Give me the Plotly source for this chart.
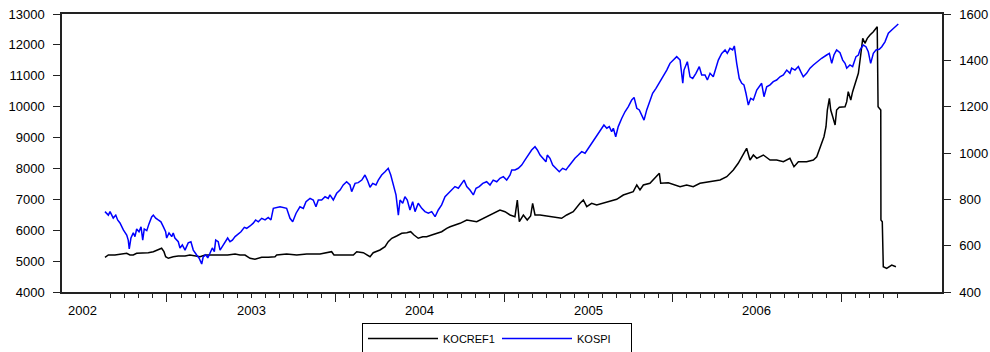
import plotly.graph_objects as go

# KOSPI index (right axis), time in decimal years
kospi_t = [
    2002.632, 2002.652, 2002.662, 2002.681, 2002.696, 2002.707, 2002.721, 2002.741, 2002.761, 2002.770,
    2002.776, 2002.786, 2002.800, 2002.810, 2002.820, 2002.834, 2002.846, 2002.856, 2002.865, 2002.880,
    2002.893, 2002.909, 2002.919, 2002.933, 2002.948, 2002.964, 2002.978, 2002.992, 2002.998, 2003.012,
    2003.028, 2003.037, 2003.047, 2003.067, 2003.077, 2003.091, 2003.107, 2003.126, 2003.142, 2003.156,
    2003.176, 2003.190, 2003.206, 2003.215, 2003.230, 2003.242, 2003.255, 2003.269, 2003.281, 2003.289,
    2003.304, 2003.315, 2003.328, 2003.344, 2003.360, 2003.374, 2003.388, 2003.404, 2003.420, 2003.439,
    2003.459, 2003.473, 2003.493, 2003.512, 2003.526, 2003.542, 2003.562, 2003.582, 2003.601, 2003.617,
    2003.631, 2003.671, 2003.710, 2003.730, 2003.746, 2003.766, 2003.789, 2003.809, 2003.825, 2003.849,
    2003.868, 2003.884, 2003.898, 2003.918, 2003.938, 2003.957, 2003.967, 2003.987, 2004.007, 2004.027,
    2004.046, 2004.066, 2004.086, 2004.096, 2004.116, 2004.135, 2004.156, 2004.175, 2004.189, 2004.205,
    2004.221, 2004.240, 2004.254, 2004.274, 2004.294, 2004.313, 2004.328, 2004.343, 2004.359, 2004.373,
    2004.383, 2004.399, 2004.412, 2004.426, 2004.442, 2004.458, 2004.472, 2004.491, 2004.512, 2004.531,
    2004.551, 2004.571, 2004.591, 2004.610, 2004.630, 2004.650, 2004.680, 2004.709, 2004.729, 2004.749,
    2004.763, 2004.779, 2004.798, 2004.818, 2004.834, 2004.853, 2004.874, 2004.897, 2004.917, 2004.936,
    2004.957, 2004.976, 2004.996, 2005.016, 2005.036, 2005.046, 2005.065, 2005.085, 2005.105, 2005.125,
    2005.144, 2005.164, 2005.184, 2005.198, 2005.214, 2005.233, 2005.249, 2005.257, 2005.273, 2005.289,
    2005.309, 2005.328, 2005.348, 2005.368, 2005.382, 2005.402, 2005.421, 2005.441, 2005.461, 2005.481,
    2005.500, 2005.520, 2005.540, 2005.560, 2005.580, 2005.593, 2005.610, 2005.625, 2005.639, 2005.649,
    2005.663, 2005.678, 2005.699, 2005.718, 2005.738, 2005.758, 2005.772, 2005.788, 2005.803, 2005.817,
    2005.831, 2005.847, 2005.862, 2005.882, 2005.902, 2005.926, 2005.945, 2005.966, 2005.985, 2006.009,
    2006.025, 2006.045, 2006.061, 2006.068, 2006.088, 2006.104, 2006.120, 2006.139, 2006.159, 2006.173,
    2006.193, 2006.207, 2006.223, 2006.242, 2006.258, 2006.272, 2006.292, 2006.312, 2006.325, 2006.341,
    2006.357, 2006.367, 2006.381, 2006.396, 2006.411, 2006.424, 2006.436, 2006.450, 2006.464, 2006.480,
    2006.500, 2006.515, 2006.529, 2006.543, 2006.559, 2006.579, 2006.598, 2006.618, 2006.638, 2006.658,
    2006.678, 2006.697, 2006.707, 2006.727, 2006.747, 2006.761, 2006.776, 2006.796, 2006.816, 2006.836,
    2006.859, 2006.885, 2006.915, 2006.931, 2006.945, 2006.958, 2006.974, 2006.994, 2007.010, 2007.024,
    2007.034, 2007.053, 2007.069, 2007.089, 2007.103, 2007.113, 2007.132, 2007.148, 2007.162, 2007.176,
    2007.192, 2007.208, 2007.227, 2007.242, 2007.261, 2007.281, 2007.301, 2007.321, 2007.340,
]
kospi = [
    747, 732, 747, 719, 732, 711, 698, 668, 646, 624,
    586, 633, 655, 639, 672, 660, 681, 624, 672, 665,
    694, 724, 732, 719, 711, 703, 682, 660, 633, 655,
    639, 655, 633, 617, 590, 603, 581, 612, 617, 581,
    560, 547, 521, 552, 560, 547, 567, 590, 574, 624,
    617, 581, 596, 617, 633, 617, 624, 639, 650, 660,
    679, 675, 685, 697, 711, 703, 718, 711, 722, 711,
    761, 768, 761, 718, 703, 740, 768, 761, 790, 804,
    797, 768, 797, 797, 811, 804, 819, 797, 826, 840,
    862, 876, 862, 833, 869, 872, 883, 905, 883, 852,
    869, 862, 883, 905, 919, 934, 905, 862, 819, 732,
    797, 783, 811, 797, 754, 790, 747, 783, 761, 747,
    740, 747, 725, 754, 776, 811, 833, 855, 848, 869,
    883, 855, 840, 819, 848, 855, 869, 876, 862, 883,
    876, 891, 898, 883, 905, 927, 927, 934, 948, 970,
    991, 1013, 1027, 1013, 991, 977, 962, 991, 977, 948,
    934, 919, 934, 927, 941, 962, 977, 991, 1006, 999,
    1020, 1042, 1063, 1085, 1107, 1121, 1107, 1114, 1092, 1107,
    1070, 1114, 1150, 1178, 1200, 1229, 1240, 1193, 1186, 1164,
    1142, 1186, 1221, 1258, 1279, 1308, 1332, 1358, 1387, 1404,
    1416, 1401, 1301, 1358, 1394, 1329, 1322, 1344, 1373, 1337,
    1337, 1315, 1344, 1329, 1373, 1401, 1430, 1445, 1430, 1452,
    1445, 1462, 1387, 1322, 1301, 1294, 1258, 1207, 1236, 1229,
    1272, 1286, 1301, 1243, 1286, 1294, 1308, 1315, 1329, 1337,
    1358, 1344, 1366, 1358, 1373, 1351, 1329, 1344, 1366, 1380,
    1394, 1409, 1423, 1430, 1387, 1423, 1445, 1433, 1401, 1387,
    1366, 1380, 1373, 1416, 1423, 1445, 1466, 1459, 1437, 1387,
    1430, 1445, 1448, 1459, 1480, 1517, 1531, 1545, 1557,
]

# KOCREF1 index (left axis)
kocref_t = [
    2002.632, 2002.652, 2002.691, 2002.731, 2002.761, 2002.780, 2002.800, 2002.820, 2002.859, 2002.889,
    2002.919, 2002.948, 2002.968, 2002.982, 2002.992, 2003.008, 2003.037, 2003.067, 2003.107, 2003.136,
    2003.166, 2003.196, 2003.226, 2003.265, 2003.325, 2003.360, 2003.404, 2003.433, 2003.463, 2003.493,
    2003.522, 2003.562, 2003.601, 2003.641, 2003.651, 2003.710, 2003.770, 2003.829, 2003.908, 2003.977,
    2003.991, 2004.046, 2004.106, 2004.126, 2004.165, 2004.205, 2004.224, 2004.264, 2004.294, 2004.313,
    2004.334, 2004.363, 2004.393, 2004.423, 2004.446, 2004.466, 2004.491, 2004.518, 2004.541, 2004.571,
    2004.601, 2004.630, 2004.660, 2004.680, 2004.739, 2004.779, 2004.838, 2004.897, 2004.936, 2004.976,
    2005.006, 2005.036, 2005.065, 2005.079, 2005.091, 2005.115, 2005.138, 2005.158, 2005.170, 2005.184,
    2005.214, 2005.293, 2005.342, 2005.372, 2005.411, 2005.451, 2005.471, 2005.491, 2005.520, 2005.550,
    2005.589, 2005.629, 2005.669, 2005.708, 2005.767, 2005.788, 2005.807, 2005.827, 2005.866, 2005.922,
    2005.930, 2005.975, 2006.015, 2006.045, 2006.084, 2006.123, 2006.163, 2006.223, 2006.282, 2006.322,
    2006.361, 2006.390, 2006.420, 2006.440, 2006.460, 2006.480, 2006.500, 2006.539, 2006.579, 2006.618,
    2006.658, 2006.697, 2006.721, 2006.747, 2006.796, 2006.836, 2006.856, 2006.871, 2006.885, 2006.899,
    2006.911, 2006.919, 2006.931, 2006.939, 2006.951, 2006.965, 2006.974, 2006.990, 2007.024, 2007.034,
    2007.043, 2007.058, 2007.069, 2007.089, 2007.103, 2007.117, 2007.129, 2007.142, 2007.156, 2007.172,
    2007.192, 2007.215, 2007.220, 2007.236, 2007.237, 2007.245, 2007.251, 2007.271, 2007.301, 2007.326,
]
kocref = [
    5123, 5198, 5198, 5230, 5253, 5198, 5198, 5253, 5253, 5272,
    5305, 5382, 5415, 5305, 5143, 5091, 5143, 5165, 5165, 5198,
    5165, 5143, 5198, 5198, 5198, 5198, 5230, 5198, 5198, 5091,
    5059, 5123, 5123, 5143, 5198, 5230, 5198, 5230, 5230, 5305,
    5198, 5198, 5198, 5305, 5272, 5143, 5272, 5360, 5467, 5628,
    5739, 5813, 5900, 5920, 5952, 5845, 5739, 5790, 5790, 5845,
    5900, 5952, 6062, 6114, 6224, 6331, 6276, 6438, 6548, 6655,
    6600, 6493, 6438, 6978, 6276, 6493, 6331, 6460, 6872, 6493,
    6493, 6438, 6386, 6493, 6600, 6872, 6978, 6762, 6872, 6817,
    6872, 6923, 7001, 7140, 7247, 7464, 7302, 7464, 7519, 7843,
    7519, 7538, 7464, 7409, 7464, 7409, 7519, 7571, 7626, 7733,
    7950, 8167, 8490, 8652, 8273, 8435, 8328, 8435, 8273, 8273,
    8218, 8328, 8056, 8218, 8218, 8273, 8380, 8597, 8814, 9028,
    9351, 9892, 10271, 9892, 9675, 9406, 9892, 9980, 9999, 10161,
    10485, 10216, 10485, 10808, 11080, 11673, 12213, 12051, 12213, 12320,
    12427, 12589, 9999, 9892, 6331, 6276, 4819, 4767, 4874, 4819,
]

year_labels = ["2002", "2003", "2004", "2005", "2006"]
year_label_pos = [2002.5, 2003.5, 2004.5, 2005.5, 2006.5]
year_starts = [2003, 2004, 2005, 2006, 2007]
left_ticks = list(range(4000, 13001, 1000))
right_ticks = list(range(400, 1601, 200))

# monthly minor ticks, Sep 2002 to May 2007
month_ticks = [2002 + m / 12 for m in range(8, 65) if m % 12 != 0]

x_range = [2002.3769, 2007.5994]
FONT = "Liberation Sans, Arial, sans-serif"
AXIS_COLOR = "#222222"
plot_h = 352 - 14 - 60

fig = go.Figure()
fig.add_trace(go.Scatter(
    x=kocref_t, y=kocref, name="KOCREF1", mode="lines",
    line=dict(color="#000000", width=1.5), yaxis="y",
))
fig.add_trace(go.Scatter(
    x=kospi_t, y=kospi, name="KOSPI", mode="lines",
    line=dict(color="#0000ff", width=1.5), yaxis="y2",
))

# year labels centred in each calendar year, 18 px below the axis
for pos, txt in zip(year_label_pos, year_labels):
    fig.add_annotation(
        x=pos, xref="x", y=-18 / plot_h, yref="paper",
        text=txt, showarrow=False, font=dict(family=FONT, size=13),
        xanchor="center", yanchor="middle",
    )

fig.update_layout(
    width=990, height=352,
    margin=dict(l=62, r=48, t=14, b=60, autoexpand=False),
    paper_bgcolor="white", plot_bgcolor="white",
    font=dict(family=FONT, color="#000000", size=13),
    showlegend=True,
    legend=dict(
        orientation="h",
        x=(362 - 62) / 880, xanchor="left",
        y=(292 - 323) / plot_h, yanchor="top",
        bordercolor="#000000", borderwidth=1,
        font=dict(family=FONT, size=11),
        itemwidth=70,
        entrywidth=49, entrywidthmode="pixels",
        traceorder="normal",
    ),
    xaxis=dict(
        range=x_range, showgrid=False, zeroline=False,
        showline=True, linecolor=AXIS_COLOR, linewidth=1.5, mirror=True,
        tickmode="array", tickvals=year_starts, showticklabels=False,
        ticks="outside", ticklen=8, tickwidth=1.2, tickcolor=AXIS_COLOR,
        minor=dict(tickmode="array", tickvals=month_ticks, ticks="outside",
                   ticklen=4, tickwidth=1, tickcolor=AXIS_COLOR, showgrid=False),
    ),
    yaxis=dict(
        range=[4000, 13000], showgrid=False, zeroline=False,
        showline=True, linecolor=AXIS_COLOR, linewidth=1.5,
        tickmode="array", tickvals=left_ticks, tickformat="d", ticks="outside",
        ticklen=7, tickwidth=1.2, tickcolor=AXIS_COLOR,
        ticklabelstandoff=6, tickfont=dict(family=FONT, size=13),
    ),
    yaxis2=dict(
        range=[400, 1600], overlaying="y", side="right", anchor="x",
        showgrid=False, zeroline=False,
        showline=True, linecolor=AXIS_COLOR, linewidth=1.5,
        tickmode="array", tickvals=right_ticks, tickformat="d", ticks="outside",
        ticklen=7, tickwidth=1.2, tickcolor=AXIS_COLOR,
        ticklabelstandoff=6, tickfont=dict(family=FONT, size=13),
    ),
)

fig.write_html("out.html")
